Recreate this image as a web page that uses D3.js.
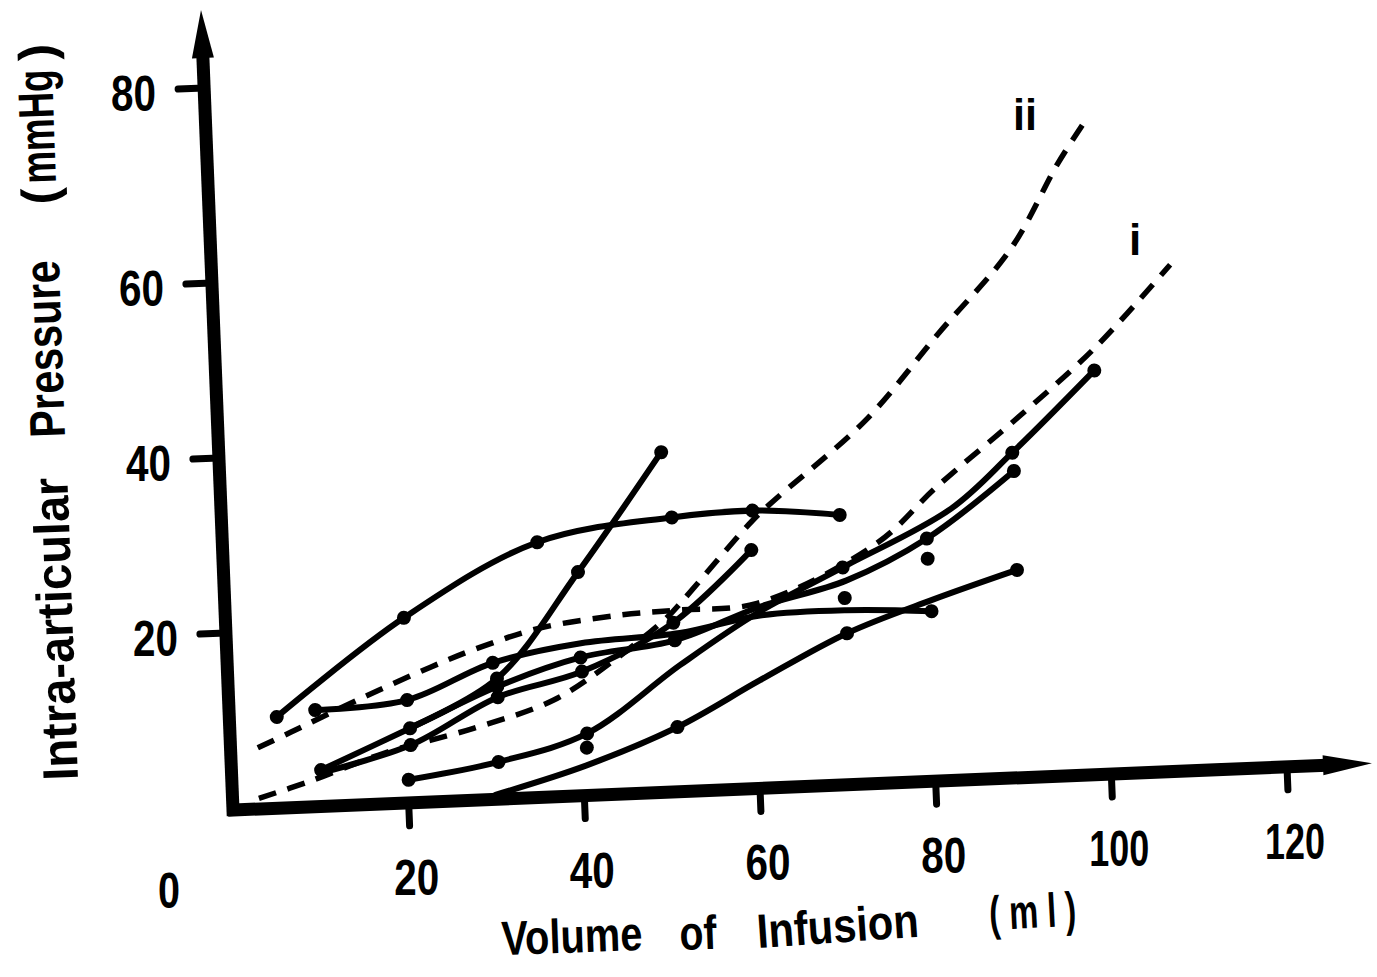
<!DOCTYPE html>
<html>
<head>
<meta charset="utf-8">
<script src="https://cdn.jsdelivr.net/npm/d3@7"></script>
<style>
  body { margin: 0; background: #fff; }
  text { font-family: "Liberation Sans Narrow", "Arial Narrow", "Liberation Sans", sans-serif; font-weight: bold; fill: #000; }
</style>
</head>
<body>
<svg id="chart" width="1377" height="977"></svg>
<script>
// Tick values
const xTicks = [20, 40, 60, 80, 100, 120];
const yTicks = [20, 40, 60, 80];

// Individual joint tracings: [volume (ml), pressure (mmHg)]
const traceArch   = [[5.4,10.3],[20.3,20.9],[35.8,28.9],[51.2,31.1],[60.4,31.5],[70.3,30.6]];
const traceSteep  = [[20.3,8.4],[30.6,13.6],[40.3,25.3],[50.3,38.6]];
const traceFlat   = [[9.8,10.9],[20.3,11.6],[30.2,15.4],[40.3,17.2],[51.6,17.9],[60.8,19.5],[70.6,19.7],[80.3,19.2]];
const traceMid    = [[10.2,4.1],[20.5,8.4],[30.6,12.7],[40.2,15.6],[51.0,17.1],[60.8,20.5],[70.8,23.1],[80.1,27.5],[90.3,34.8]];
const traceShort  = [[10.2,3.8],[20.5,6.5],[30.6,11.5],[40.3,14.0],[50.9,19.1],[60.1,27.0]];
const traceLong   = [[20.1,2.6],[30.4,4.2],[40.6,7.0],[51.5,14.3],[60.5,19.8],[70.4,24.6],[83.0,30.8],[90.2,36.9],[99.9,45.9]];
const traceLow    = [[29.9,0.5],[40.4,3.4],[50.9,7.3],[60.5,12.2],[70.6,17.1],[80.5,20.5],[90.2,23.5]];

// Measured points marked on each tracing
const dotsArch  = [[5.4,10.3],[20.3,20.9],[35.8,28.9],[51.2,31.1],[60.4,31.5],[70.3,30.6]];
const dotsSteep = [[30.6,13.6],[40.3,25.3],[50.3,38.6]];
const dotsFlat  = [[9.8,10.9],[20.3,11.6],[30.2,15.4],[80.3,19.2]];
const dotsMid   = [[10.2,4.1],[20.5,8.4],[30.6,12.7],[40.2,15.6],[51.0,17.1],[80.1,27.5],[90.3,34.8]];
const dotsShort = [[20.5,6.5],[30.6,11.5],[40.3,14.0],[50.9,19.1],[60.1,27.0]];
const dotsLong  = [[20.1,2.6],[30.4,4.2],[40.6,7.0],[70.4,24.6],[90.2,36.9],[99.9,45.9]];
const dotsLow   = [[50.9,7.3],[70.6,17.1],[90.2,23.5]];
const dotsLoose = [[40.5,5.4],[70.5,21.1],[80.1,25.2]];

// Reference curves i and ii (dashed)
const curveI  = [[3.1,6.9],[6.9,8.5],[15.3,12.1],[23.1,15.2],[28.8,17.2],[35.7,19.1],[44.9,20.2],[51.4,20.5],[60.5,20.9],[74.4,27.2],[81.4,33.3],[91.9,41.6],[100.1,48.5],[109.0,57.6]];
const curveII = [[3.0,1.2],[8.6,2.8],[17.4,5.7],[27.7,8.1],[36.9,10.9],[43.5,14.8],[50.3,19.8],[52.1,21.6],[60.4,30.4],[63.2,32.8],[73.7,41.3],[82.4,50.9],[91.0,60.2],[96.7,68.7],[100.3,73.3]];

const solidTraces = [traceArch, traceSteep, traceFlat, traceMid, traceShort, traceLong, traceLow];
const dotSets = [dotsArch, dotsSteep, dotsFlat, dotsMid, dotsShort, dotsLong, dotsLow, dotsLoose];
const dashedCurves = [{ name: "i", pts: curveI }, { name: "ii", pts: curveII }];

const svg = d3.select("#chart");

// Scales (the pressure axis is hand-ruled, so its spacing is slightly uneven)
const x = d3.scaleLinear().domain([0, 120]).range([0, 1054]);
const y = d3.scaleLinear().domain([0, 20, 40, 60, 80]).range([0, -177, -352, -527, -722]);

// The drawn axes lean a little: shear the plotting frame
const ox = 233, oy = 810, shx = 0.04, shy = -0.041;
const project = (v, p) => [ox + x(v) + shx * y(p), oy + y(p) + shy * x(v)];

const plot = svg.append("g")
  .attr("transform", `matrix(1,${shy},${shx},1,${ox},${oy})`);

// Axes
const axisW = 13;
plot.append("line").attr("x1", -5).attr("y1", 0).attr("x2", 1100).attr("y2", 0)
  .attr("stroke", "#000").attr("stroke-width", axisW);
plot.append("path").attr("d", "M1090,-10 L1139,0 L1090,10 Z").attr("fill", "#000");
plot.append("line").attr("x1", 0).attr("y1", 6).attr("x2", 0).attr("y2", -760)
  .attr("stroke", "#000").attr("stroke-width", axisW);
plot.append("path").attr("d", "M-11,-752 L0,-800 L11,-752 Z").attr("fill", "#000");

plot.selectAll(".xtick").data(xTicks).join("line")
  .attr("x1", d => x(d)).attr("x2", d => x(d)).attr("y1", 0).attr("y2", 23)
  .attr("stroke", "#000").attr("stroke-width", 7).attr("stroke-linecap", "round");
plot.selectAll(".ytick").data(yTicks).join("line")
  .attr("x1", 0).attr("x2", -26).attr("y1", d => y(d)).attr("y2", d => y(d))
  .attr("stroke", "#000").attr("stroke-width", 7).attr("stroke-linecap", "round");

// Curves
const line = d3.line().x(d => x(d[0])).y(d => y(d[1])).curve(d3.curveCatmullRom.alpha(0.5));

plot.selectAll(".dashed").data(dashedCurves).join("path")
  .attr("d", d => line(d.pts)).attr("fill", "none").attr("stroke", "#000")
  .attr("stroke-width", 5.5).attr("stroke-dasharray", "18,12");

plot.selectAll(".trace").data(solidTraces).join("path")
  .attr("d", d => line(d)).attr("fill", "none").attr("stroke", "#000")
  .attr("stroke-width", 6).attr("stroke-linecap", "round");

plot.selectAll(".dot").data(dotSets.flat()).join("circle")
  .attr("cx", d => x(d[0])).attr("cy", d => y(d[1])).attr("r", 7).attr("fill", "#000");

// Tick labels
xTicks.forEach(v => {
  const [px, py] = project(v, 0);
  svg.append("text").attr("x", px + 8).attr("y", py + 92).attr("text-anchor", "middle")
    .attr("font-size", 50).attr("textLength", String(v).length === 3 ? 60 : 45)
    .attr("lengthAdjust", "spacingAndGlyphs").text(v);
});
yTicks.forEach(p => {
  const [px, py] = project(0, p);
  svg.append("text").attr("x", px - 48).attr("y", py + 23).attr("text-anchor", "end")
    .attr("font-size", 50).attr("textLength", 45).attr("lengthAdjust", "spacingAndGlyphs").text(p);
});
{
  const [px, py] = project(0, 0);
  svg.append("text").attr("x", px - 64).attr("y", py + 98).attr("text-anchor", "middle")
    .attr("font-size", 50).attr("textLength", 22).attr("lengthAdjust", "spacingAndGlyphs").text("0");
}

// Curve names
svg.append("text").attr("x", 1135).attr("y", 255).attr("text-anchor", "middle").attr("font-size", 44).text("i");
svg.append("text").attr("x", 1025).attr("y", 130).attr("text-anchor", "middle").attr("font-size", 44)
  .attr("textLength", 24).attr("lengthAdjust", "spacingAndGlyphs").text("ii");

// Axis titles
const yTitle = [
  { t: "Intra-articular", x: 78, y: 780, len: 303 },
  { t: "Pressure", x: 65, y: 437, len: 177 },
  { t: "(", x: 57, y: 204, len: null },
  { t: "mmHg", x: 56, y: 183, len: 114 },
  { t: ")", x: 54, y: 60, len: null }
];
yTitle.forEach(d => {
  const t = svg.append("text").attr("transform", `translate(${d.x},${d.y}) rotate(-92)`)
    .attr("font-size", 50).text(d.t);
  if (d.len) t.attr("textLength", d.len).attr("lengthAdjust", "spacingAndGlyphs");
});
const xTitle = [
  { t: "Volume", x: 502, y: 955, len: 141, a: -2 },
  { t: "of", x: 680, y: 950, len: 37, a: -2 },
  { t: "Infusion", x: 758, y: 948, len: 162, a: -4 },
  { t: "( m l )", x: 990, y: 930, len: 87, a: -3 }
];
xTitle.forEach(d => {
  svg.append("text").attr("transform", `translate(${d.x},${d.y}) rotate(${d.a})`)
    .attr("font-size", 48).attr("textLength", d.len).attr("lengthAdjust", "spacingAndGlyphs").text(d.t);
});
</script>
</body>
</html>
